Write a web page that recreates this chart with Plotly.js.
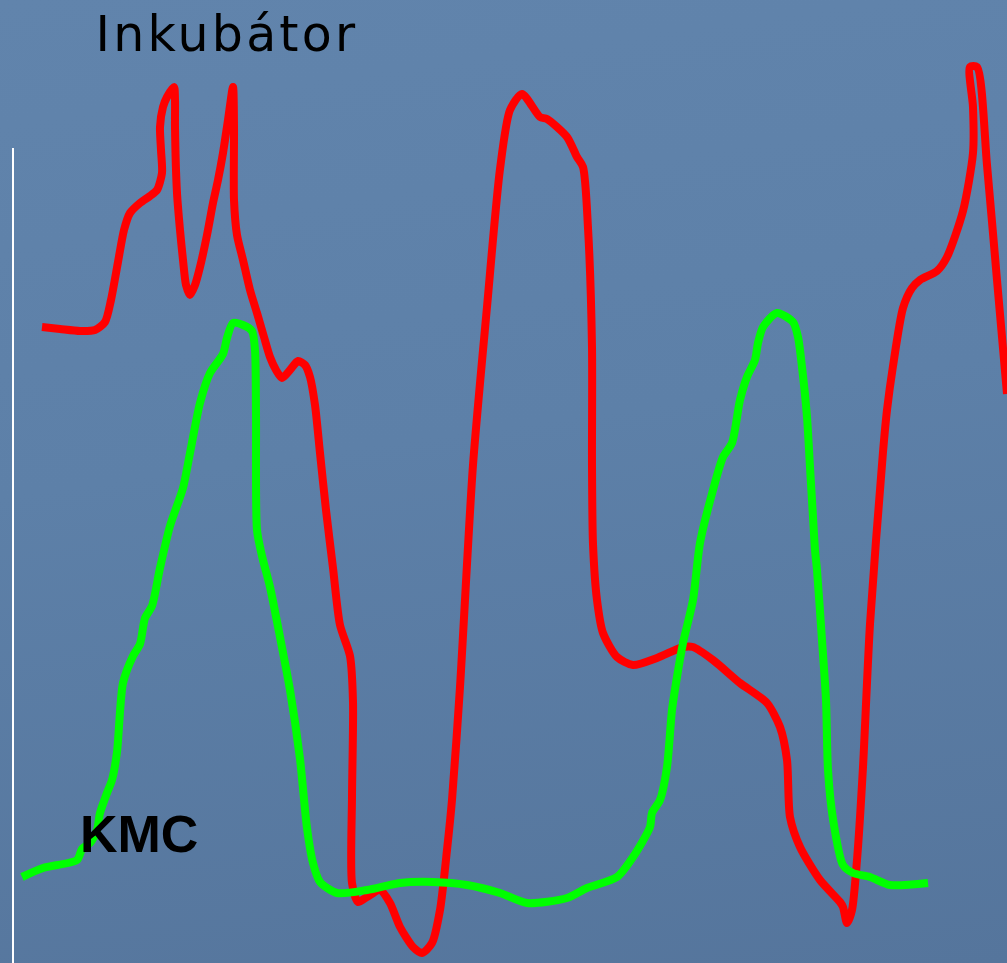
<!DOCTYPE html>
<html>
<head>
<meta charset="utf-8">
<script src="https://cdn.plot.ly/plotly-3.0.1.min.js"></script>
<style>
  html, body { margin: 0; padding: 0; }
  body {
    width: 1007px; height: 963px; overflow: hidden;
    background: linear-gradient(172deg, #6184ac 0%, #5d80a8 45%, #55759c 100%);
  }
  #chart { width: 1007px; height: 963px; }
  g.annotation[data-index="0"] text { letter-spacing: 3.2px; }
</style>
</head>
<body>
<div id="chart"></div>
<script>
// Inkubátor (red) trace (time, value)
const redX = [42,60,80,95,105,111,118,124,130,140,150,157,162,161,160,163,167,174,175,175,177,180,183,186,190,195,200,207,213,218,223,228,233,234,234,237,243,250,257,264,270,276,282,290,298,305,310,315,320,326,333,340,350,353,352,352,358,367,380,390,400,413,422,432,440,447,452,460,473,487,500,510,522,540,547,567,577,583,588,592,592,593,597,603,617,633,657,683,693,713,740,767,780,787,790,800,820,840,843,847,852,857,863,870,883,887,893,903,912,920,937,947,963,973,973,970,977,987,997,1007];
const redY = [327,329,331,330,322,300,262,230,213,203,196,190,173,150,127,107,97,87,100,127,193,230,260,285,295,285,267,235,203,180,153,120,87,127,200,235,260,290,313,337,357,370,378,370,361,365,377,405,453,510,568,625,656,702,797,883,902,897,890,903,927,947,953,943,910,850,800,687,465,307,169,110,94,117,119,137,157,167,228,347,465,544,600,633,657,665,658,647,647,660,683,703,727,760,817,847,880,902,907,923,910,860,767,624,452,410,366,308,288,280,271,257,211,153,107,67,67,165,280,394];

// KMC (green) trace
const greenX = [22,43,77,82,90,97,100,107,112,117,123,133,140,145,152,160,170,183,190,200,210,223,227,233,243,252,255,256,257,262,270,280,290,300,307,313,320,337,367,400,433,467,500,527,567,587,617,633,650,652,660,667,672,677,683,693,700,713,723,732,740,747,755,758,763,777,793,798,802,807,810,813,815,817,822,826,828,833,843,853,870,890,928];
const greenY = [877,868,860,849,843,830,813,793,780,752,683,656,644,618,606,568,526,488,453,403,373,354,338,323,325,331,350,415,530,556,587,637,690,759,828,863,882,893,890,883,882,885,893,903,898,888,877,857,827,813,800,767,710,677,643,600,543,490,457,443,400,377,360,343,327,313,322,337,367,417,467,517,550,570,640,700,770,819,865,873,877,885,883];

const labels = { red: "Inkubátor", green: "KMC" };

const traces = [
  { x: redX, y: redY, mode: "lines", name: labels.red,
    line: { color: "#ff0000", width: 8, shape: "spline", smoothing: 0.7 }, hoverinfo: "skip" },
  { x: greenX, y: greenY, mode: "lines", name: labels.green,
    line: { color: "#00ff00", width: 8, shape: "spline", smoothing: 0.7 }, hoverinfo: "skip" }
];

const layout = {
  width: 1007, height: 963,
  margin: { l: 0, r: 0, t: 0, b: 0 },
  paper_bgcolor: "rgba(0,0,0,0)",
  plot_bgcolor: "rgba(0,0,0,0)",
  showlegend: false,
  xaxis: { range: [0, 1007], visible: false, fixedrange: true },
  yaxis: { range: [963, 0], visible: false, fixedrange: true },
  shapes: [
    { type: "line", xref: "x", yref: "y", x0: 13, x1: 13, y0: 148, y1: 963,
      line: { color: "#ffffff", width: 2 } }
  ],
  annotations: [
    { x: 108, y: 34, xref: "x", yref: "y", xanchor: "left", yanchor: "middle",
      text: labels.red, showarrow: false,
      font: { family: "DejaVu Sans", size: 49, color: "#000000" } },
    { x: 78, y: 834, xref: "x", yref: "y", xanchor: "left", yanchor: "middle",
      text: "<b>" + labels.green + "</b>", showarrow: false,
      font: { family: "Liberation Sans, Arial", size: 52, color: "#000000" } }
  ]
};

Plotly.newPlot("chart", traces, layout, { staticPlot: true, displayModeBar: false });
</script>
</body>
</html>
